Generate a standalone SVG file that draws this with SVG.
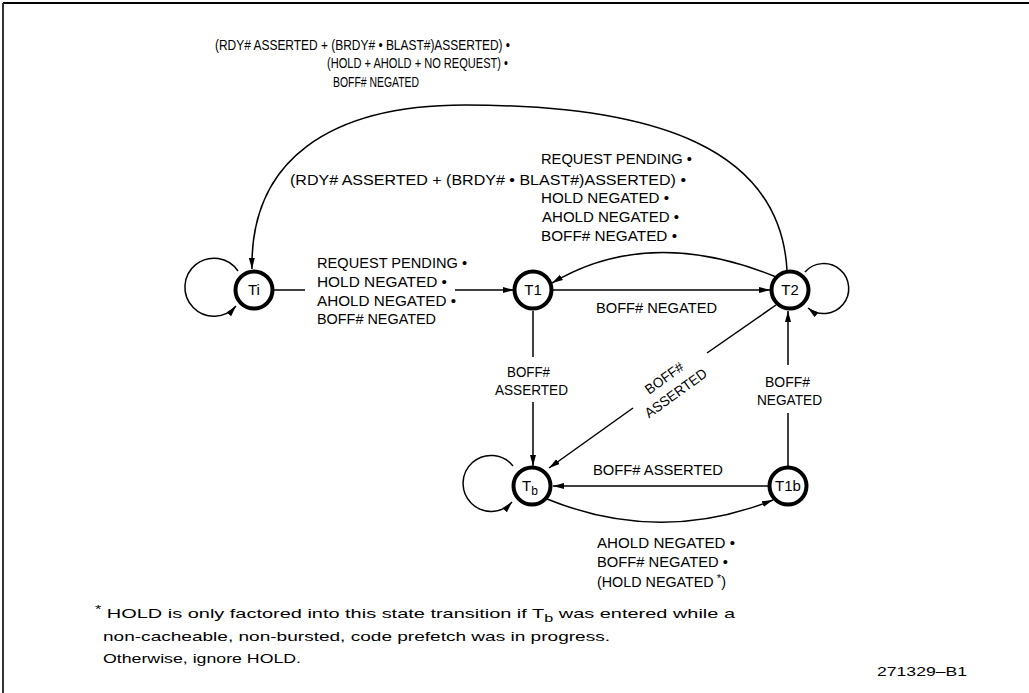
<svg xmlns="http://www.w3.org/2000/svg" width="1029" height="693" viewBox="0 0 1029 693">
<style>
.lbl{font-family:"Liberation Sans",Arial,sans-serif;font-size:14px;fill:#000}
.top{font-family:"Liberation Sans",Arial,sans-serif;font-size:14.5px;fill:#000}
.foot{font-family:"Liberation Sans",Arial,sans-serif;font-size:13.5px;fill:#000}
.node{fill:#fff;stroke:#000;stroke-width:4}
.nt{font-family:"Liberation Sans",Arial,sans-serif;font-size:15px;fill:#000;text-anchor:middle}
.e{fill:none;stroke:#000;stroke-width:1.5}
.ea{fill:none;stroke:#000;stroke-width:1.5;marker-end:url(#ah)}
</style>
<defs>
<marker id="ah" markerWidth="12" markerHeight="8" refX="11" refY="4" orient="auto" markerUnits="userSpaceOnUse">
<path d="M0,1 L11,4 L0,7 Z" fill="#000"/>
</marker>
</defs>
<rect width="1029" height="693" fill="#fff"/>
<g id="frame">
<line x1="3" y1="3" x2="1029" y2="3" stroke="#000" stroke-width="2"/>
<line x1="3" y1="3" x2="3" y2="693" stroke="#333" stroke-width="2"/>
</g>
<g id="connectors">
<path class="ea" d="M238,271 A29,29 0 1,0 236,306"/>
<path class="e" d="M274,290 H305"/>
<path class="ea" d="M455,290 H514"/>
<path class="ea" d="M552,290 H770"/>
<path class="ea" d="M776,277 Q650,225 552,283"/>
<path class="ea" d="M787,270 C780,150 660,105 465,105 C330,105 250,160 252,269"/>
<path class="ea" d="M805,272 A25,25 0 1,1 808,308"/>
<path class="e" d="M533,311 V357"/>
<path class="ea" d="M533,402 V466"/>
<path class="e" d="M776,305 L707,353"/>
<path class="ea" d="M633,408 L549,468"/>
<path class="e" d="M788,467 V413"/>
<path class="ea" d="M788,365 V311"/>
<path class="ea" d="M769,486 H553"/>
<path class="ea" d="M547,499 Q660,545 773,500"/>
<path class="ea" d="M513,466 A28,28 0 1,0 512,502"/>
</g>
<g id="node-Ti"><circle class="node" cx="254" cy="290" r="18.5"/><text class="nt" x="254" y="295">Ti</text></g>
<g id="node-T1"><circle class="node" cx="533" cy="290" r="18.5"/><text class="nt" x="533" y="295">T1</text></g>
<g id="node-T2"><circle class="node" cx="790" cy="290" r="18.5"/><text class="nt" x="790" y="295">T2</text></g>
<g id="node-Tb"><circle class="node" cx="532" cy="486" r="18.5"/><text class="nt" x="530" y="491">T<tspan font-size="12" dy="4">b</tspan></text></g>
<g id="node-T1b"><circle class="node" cx="788" cy="486" r="18.5"/><text class="nt" x="788" y="491">T1b</text></g>
<g id="labels">
<text class="top" x="215" y="50" textLength="295" lengthAdjust="spacingAndGlyphs">(RDY# ASSERTED + (BRDY# • BLAST#)ASSERTED) •</text>
<text class="top" x="327" y="68" textLength="181" lengthAdjust="spacingAndGlyphs">(HOLD + AHOLD + NO REQUEST) •</text>
<text class="top" x="333" y="87" textLength="86" lengthAdjust="spacingAndGlyphs">BOFF# NEGATED</text>
<text class="lbl" x="541" y="164" textLength="151" lengthAdjust="spacingAndGlyphs">REQUEST PENDING  •</text>
<text class="lbl" x="290" y="185" textLength="396" lengthAdjust="spacingAndGlyphs">(RDY# ASSERTED + (BRDY# • BLAST#)ASSERTED) •</text>
<text class="lbl" x="541" y="203" textLength="128" lengthAdjust="spacingAndGlyphs">HOLD NEGATED  •</text>
<text class="lbl" x="542" y="222" textLength="137" lengthAdjust="spacingAndGlyphs">AHOLD NEGATED  •</text>
<text class="lbl" x="541" y="241" textLength="136" lengthAdjust="spacingAndGlyphs">BOFF# NEGATED  •</text>
<text class="lbl" x="317" y="268" textLength="150" lengthAdjust="spacingAndGlyphs">REQUEST PENDING  •</text>
<text class="lbl" x="317" y="287" textLength="130" lengthAdjust="spacingAndGlyphs">HOLD NEGATED  •</text>
<text class="lbl" x="317" y="306" textLength="139" lengthAdjust="spacingAndGlyphs">AHOLD NEGATED  •</text>
<text class="lbl" x="317" y="324" textLength="119" lengthAdjust="spacingAndGlyphs">BOFF# NEGATED</text>
<text class="lbl" x="596" y="313" textLength="121" lengthAdjust="spacingAndGlyphs">BOFF# NEGATED</text>
<text class="lbl" x="507" y="377" textLength="43" lengthAdjust="spacingAndGlyphs">BOFF#</text>
<text class="lbl" x="495" y="395" textLength="73" lengthAdjust="spacingAndGlyphs">ASSERTED</text>
<g transform="translate(670,386) rotate(-36)">
<text class="lbl" x="-22" y="-5" textLength="44" lengthAdjust="spacingAndGlyphs">BOFF#</text>
<text class="lbl" x="-36" y="14" textLength="73" lengthAdjust="spacingAndGlyphs">ASSERTED</text>
</g>
<text class="lbl" x="765" y="387" textLength="45" lengthAdjust="spacingAndGlyphs">BOFF#</text>
<text class="lbl" x="757" y="405" textLength="65" lengthAdjust="spacingAndGlyphs">NEGATED</text>
<text class="lbl" x="593" y="475" textLength="130" lengthAdjust="spacingAndGlyphs">BOFF#  ASSERTED</text>
<text class="lbl" x="597" y="548" textLength="138" lengthAdjust="spacingAndGlyphs">AHOLD NEGATED  •</text>
<text class="lbl" x="597" y="567" textLength="131" lengthAdjust="spacingAndGlyphs">BOFF# NEGATED •</text>
<text class="lbl" x="597" y="587" textLength="129" lengthAdjust="spacingAndGlyphs">(HOLD NEGATED<tspan font-size="11" dy="-5"> *</tspan><tspan dy="5">)</tspan></text>
<text class="foot" x="95" y="618" textLength="640" lengthAdjust="spacingAndGlyphs"><tspan font-size="11" dy="-5">*</tspan><tspan dy="5"> HOLD is only factored into this state transition if T</tspan><tspan font-size="11" dy="4">b</tspan><tspan dy="-4"> was entered while a</tspan></text>
<text class="foot" x="103" y="641" textLength="507" lengthAdjust="spacingAndGlyphs">non-cacheable, non-bursted, code prefetch was in  progress.</text>
<text class="foot" x="103" y="663" textLength="198" lengthAdjust="spacingAndGlyphs">Otherwise, ignore HOLD.</text>
<text class="foot" x="877" y="676" textLength="90" lengthAdjust="spacingAndGlyphs">271329–B1</text>
</g>
</svg>
